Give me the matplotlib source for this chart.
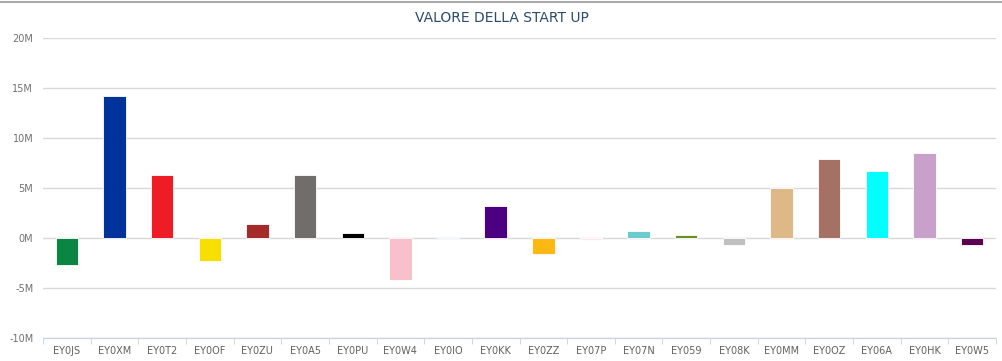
import matplotlib.pyplot as plt
import numpy as np
from matplotlib.ticker import FuncFormatter

# startup codes and their values (millions)
startups = ['EY0JS', 'EY0XM', 'EY0T2', 'EY0OF', 'EY0ZU', 'EY0A5', 'EY0PU',
            'EY0W4', 'EY0IO', 'EY0KK', 'EY0ZZ', 'EY07P', 'EY07N', 'EY059',
            'EY08K', 'EY0MM', 'EY0OZ', 'EY06A', 'EY0HK', 'EY0W5']
values = [-2.7, 14.25, 6.3, -2.3, 1.4, 6.3, 0.5, -4.2, 0.15, 3.2,
          -1.6, -0.15, 0.7, 0.35, -0.7, 5.0, 7.9, 6.7, 8.5, -0.7]
barColors = ['#0c8442', '#003399', '#ee1c25', '#f7e000', '#a52a2a',
             '#716d6b', '#000000', '#f8c0cb', '#87ceeb', '#4b0082',
             '#fdb813', '#ffe4f0', '#6ccbcc', '#6b8e23', '#c0c0c0',
             '#deb887', '#a57164', '#00ffff', '#c9a0c9', '#5c0050']
yTicks = [-10, -5, 0, 5, 10, 15, 20]

fig = plt.figure(figsize=(10.03, 3.61), dpi=100)
ax = fig.add_axes([43 / 1003, 1 - 338 / 361, 953 / 1003, 300 / 361])

x = np.arange(len(startups))
ax.bar(x, values, width=0.47, color=barColors, edgecolor='white',
       linewidth=0.6, zorder=3)

ax.set_xlim(-0.5, len(startups) - 0.5)
ax.set_ylim(-10, 20)
ax.set_yticks(yTicks)
ax.yaxis.set_major_formatter(FuncFormatter(lambda v, p: '%dM' % v))
ax.grid(axis='y', color='#d8d8d8', linewidth=1.0, zorder=0)

ax.set_xticks(x)
ax.set_xticklabels(startups)
ax.set_xticks(np.arange(len(startups) + 1) - 0.5, minor=True)
ax.tick_params(axis='x', which='major', length=0, labelsize=7,
               labelcolor='#606060', pad=6)
ax.tick_params(axis='x', which='minor', length=4, color='#c8d2dc')
ax.tick_params(axis='y', length=0, labelsize=7, labelcolor='#707070', pad=7)

for side in ['top', 'right', 'left']:
    ax.spines[side].set_visible(False)
ax.spines['bottom'].set_color('#c8d2dc')

# title and top border line
fig.text(0.5, 1 - 18 / 361, 'VALORE DELLA START UP', ha='center',
         va='center', fontsize=10, color='#2b4b6b')
fig.add_artist(plt.Line2D([0, 1], [1 - 2 / 361, 1 - 2 / 361],
                          color='#aaaaaa', linewidth=1.5))

plt.savefig('out.png', dpi=100)
